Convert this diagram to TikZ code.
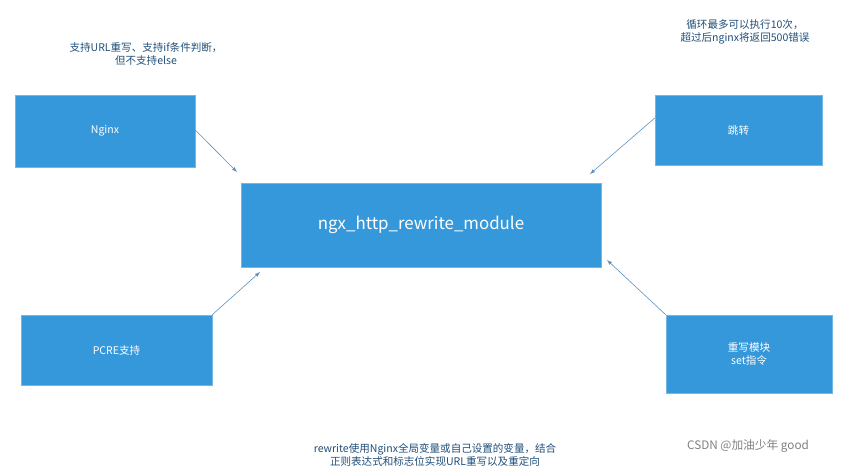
\documentclass[tikz,border=0pt]{standalone}
\usepackage{fontspec}
\newfontfamily\cjk{Noto Sans CJK SC}
\setmainfont{Noto Sans CJK SC}
\definecolor{boxblue}{HTML}{3598DB}
\definecolor{arrowblue}{HTML}{5B8FC0}
\definecolor{notetext}{HTML}{1F4E79}
\tikzset{
  modbox/.style={fill=boxblue, draw=boxblue!70!white, text=white, font=\cjk\small, align=center, inner sep=0pt},
  note/.style={text=notetext, font=\cjk\small, align=center},
  link/.style={->, >=latex, color=arrowblue, line width=0.5pt}
}
\begin{document}
\begin{tikzpicture}[x=0.03cm, y=-0.03cm]
	\useasboundingbox (0,0) rectangle (864,467);
	\clip (0,0) rectangle (864,467);
	\node[modbox, minimum width=5.4cm, minimum height=2.16cm] (nginx) at (105,131) {Nginx};
	\node[modbox, minimum width=10.8cm, minimum height=2.52cm, font=\cjk\Large] (rewrite) at (421,225) {ngx\_http\_rewrite\_module};
	\node[modbox, minimum width=5.01cm, minimum height=2.1cm] (jump) at (738.5,130) {跳转};
	\node[modbox, minimum width=5.73cm, minimum height=2.1cm] (pcre) at (116.5,350) {PCRE支持};
	\node[modbox, minimum width=4.98cm, minimum height=2.34cm] (setmod) at (749,354) {重写模块\\set指令};

	\coordinate (nginxend) at (237,172);
	\coordinate (jumpend) at (590,174);
	\coordinate (pcreend) at (260,272);
	\coordinate (setend) at (607,260);
	\draw[link] (nginx.east) ++(0,-1) -- (nginxend);
	\draw[link] (jump.west) ++(0,-12) -- (jumpend);
	\draw[link] (pcre.north east) -- (pcreend);
	\draw[link] (setmod.north west) -- (setend);

	\node[note] (noteleft) at (146,54) {支持URL重写、支持if条件判断，\\但不支持else};
	\node[note] (noteright) at (745,32) {循环最多可以执行10次，\\超过后nginx将返回500错误};
	\node[note] (notebottom) at (435,455) {rewrite使用Nginx全局变量或自己设置的变量，结合\\正则表达式和标志位实现URL重写以及重定向};
	\node[text=gray, font=\cjk\normalsize] (mark) at (748,446) {CSDN @加油少年 good};
\end{tikzpicture}
\end{document}
